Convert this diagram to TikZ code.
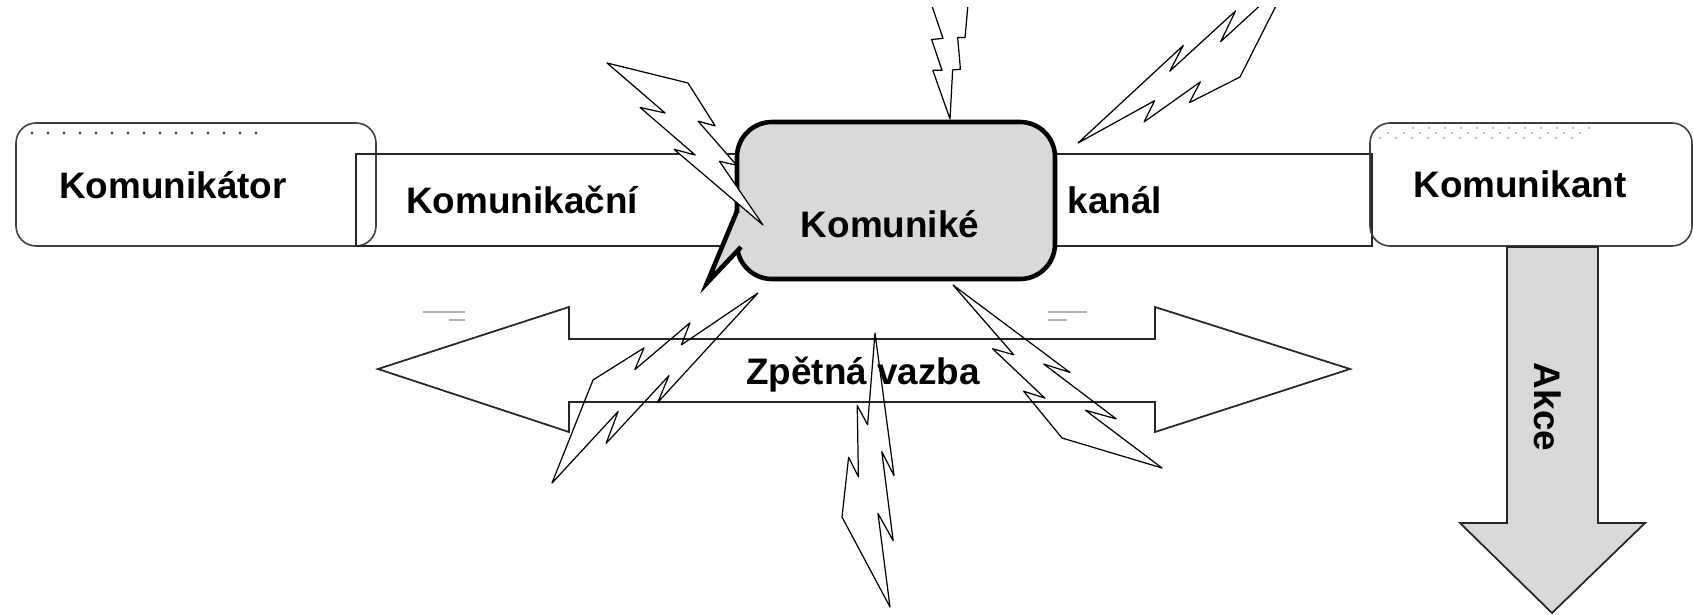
\documentclass[tikz,border=0pt]{standalone}
\usepackage{fontspec}
\setmainfont{Liberation Sans}
\definecolor{komgray}{RGB}{217,217,217}

\tikzset{
  lbl/.style={font=\bfseries\fontsize{21}{25}\selectfont, inner sep=0pt, anchor=base},
  roundbox/.style={draw=black!75, line width=0.9pt, rounded corners=0.4cm},
  channel/.style={draw=black!85, line width=0.9pt},
  bubble/.style={draw, fill=komgray, line width=2.6pt, rounded corners=0.7cm},
  bigarrow/.style={draw=black!85, line width=1pt, line join=miter},
  bolt/.style={draw, line width=0.7pt, line join=round},
  ghost/.style={draw=black!30, line width=1pt},
}

% lightning bolt from base end a, base end b and tip t
\newcommand{\lightning}[2][]{%
  \draw[bolt,#1] (barycentric cs:#2a=1,#2b=0,#2t=0)
    -- (barycentric cs:#2a=0,#2b=1,#2t=0)
    -- (barycentric cs:#2a=-0.064,#2b=0.771,#2t=0.293)
    -- (barycentric cs:#2a=0.143,#2b=0.568,#2t=0.289)
    -- (barycentric cs:#2a=-0.074,#2b=0.505,#2t=0.569)
    -- (barycentric cs:#2a=0.141,#2b=0.288,#2t=0.571)
    -- (barycentric cs:#2a=0,#2b=0,#2t=1)
    -- (barycentric cs:#2a=0.695,#2b=-0.260,#2t=0.565)
    -- (barycentric cs:#2a=0.438,#2b=-0.007,#2t=0.569)
    -- (barycentric cs:#2a=0.863,#2b=-0.157,#2t=0.294)
    -- (barycentric cs:#2a=0.550,#2b=0.161,#2t=0.289)
    -- cycle;}

\begin{document}
\begin{tikzpicture}[x=0.02cm, y=-0.02cm]
    \useasboundingbox (0,0) rectangle (1693,615);

    % sender, channel, receiver
    \draw[roundbox] (16,123) rectangle (376,246);
    \foreach \x in {32,48,...,256}
        \fill[black!70] (\x,133) circle (0.9pt);
    \draw[channel] (356,154) rectangle (1372,246);
    \draw[roundbox] (1370,123) rectangle (1692,246);
    \foreach \x in {1413,1429,...,1590}
        \fill[black!35] (\x,128) circle (0.6pt);
    \foreach \x in {1388,1404,...,1582}
        \fill[black!35] (\x,133) circle (0.6pt);
    \foreach \x in {1380,1396,...,1575}
        \fill[black!35] (\x,138) circle (0.6pt);

    % message bubble
    \draw[bubble] (737,122) rectangle (1055,279);
    \fill[komgray] (737,213) -- (707,283) -- (740,247) -- (742,247) -- (742,213) -- cycle;
    \draw[line width=2.6pt] (737,211) -- (707,283) -- (741,247);

    % feedback
    \draw[bigarrow] (378,369) -- (569,307) -- (569,339) -- (1155,339) -- (1155,307)
        -- (1350,369) -- (1155,432) -- (1155,402) -- (569,402) -- (569,432) -- cycle;
    \draw[ghost] (423,312) -- (465,312) (449,320) -- (465,320);
    \draw[ghost] (1048,312) -- (1087,312) (1048,320) -- (1067,320);

    % action
    \draw[bigarrow, fill=komgray] (1507,247) -- (1598,247) -- (1598,523) -- (1645,523)
        -- (1552,613) -- (1460,523) -- (1507,523) -- cycle;

    \node[lbl] (komunikator) at (173,198) {Komunikátor};
    \node[lbl] (komunikacni) at (522,213) {Komunikační};
    \node[lbl] (komunike) at (890,237) {Komuniké};
    \node[lbl] (kanal) at (1115,213) {kanál};
    \node[lbl] (komunikant) at (1520,197) {Komunikant};
    \node[lbl] (zpetna) at (863,384) {Zpětná vazba};
    \node[lbl, anchor=center, rotate=-90] (akce) at (1548,407) {Akce};

    % noise
    \coordinate (b1a) at (607,63);   \coordinate (b1b) at (688,83);   \coordinate (b1t) at (763,225);
    \coordinate (b2a) at (932,6);    \coordinate (b2b) at (968,4);    \coordinate (b2t) at (950,119);
    \coordinate (b3a) at (1290,-22); \coordinate (b3b) at (1240,77);  \coordinate (b3t) at (1078,143);
    \coordinate (b4a) at (552,483);  \coordinate (b4b) at (593,380);  \coordinate (b4t) at (758,293);
    \coordinate (b5a) at (890,607);  \coordinate (b5b) at (842,517);  \coordinate (b5t) at (875,333);
    \coordinate (b6a) at (1162,468); \coordinate (b6b) at (1062,438); \coordinate (b6t) at (953,285);

    \begin{scope}
        \clip (0,8) rectangle (1693,615);
        \lightning[fill=white]{b1}
        \lightning[fill=white]{b2}
        \lightning[fill=white]{b3}
    \end{scope}
    \lightning{b4}
    \lightning{b5}
    \lightning{b6}
\end{tikzpicture}
\end{document}
